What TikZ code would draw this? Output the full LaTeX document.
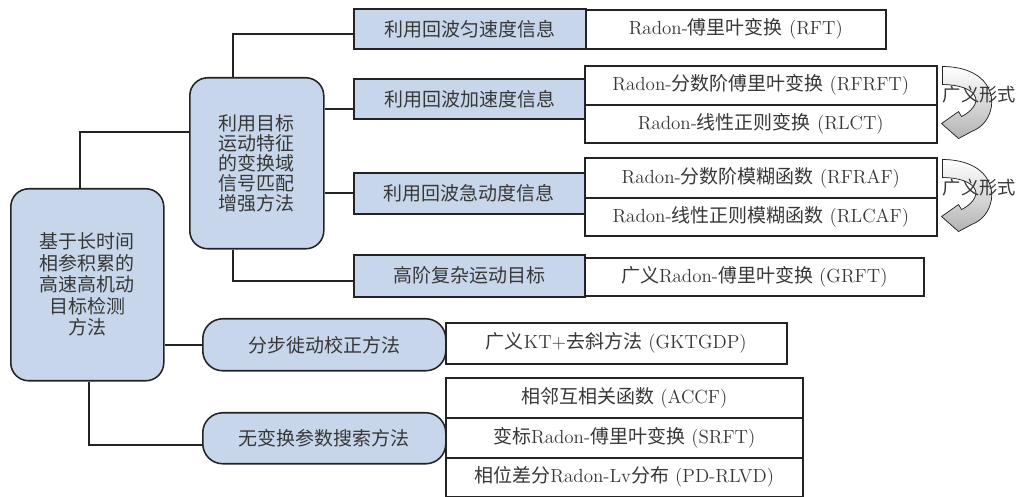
\documentclass[tikz,border=0pt]{standalone}
\usepackage{fontspec}
\newfontfamily\cjk{Noto Sans CJK SC}
\usepackage{xcolor}
\definecolor{boxblue}{RGB}{199,214,234}
\definecolor{darkline}{RGB}{35,35,35}
\definecolor{textgray}{RGB}{55,55,55}
\usepackage{tikz}
\usetikzlibrary{calc}
\newcommand{\px}{0.025cm}
\newcommand{\zh}[1]{{\cjk #1}}
\tikzset{
    common/.style={anchor=north west, draw=darkline, line width=1.1pt, inner sep=0pt, text=textgray,
        font=\fontsize{13.5}{15}\selectfont},
    leaf/.style={common, fill=white},
    method/.style={common, fill=boxblue, font=\cjk\fontsize{13.5}{15}\selectfont},
    group/.style={method, rounded corners=0.45cm, align=center},
    conn/.style={draw=darkline, line width=1.1pt},
    genarrow/.pic={
        \filldraw[draw=darkline, line width=0.5pt, top color=white, bottom color=black!30]
            (5,-39) .. controls (38,-39) and (56,-22) .. (54,0)
            .. controls (52,14) and (44,22) .. (34,26) -- (21,33) -- (4,18) -- (21,6) -- (24,11)
            .. controls (34,6) and (40,-2) .. (38,-8)
            .. controls (35,-17) and (20,-21) .. (5,-21) -- cycle;
        \node[text=textgray, font=\cjk\fontsize{13}{15}\selectfont] at (42,-11) {广义形式};
    }
}

\begin{document}
\begin{tikzpicture}[x=\px, y=-\px]
    \useasboundingbox (0,0) rectangle (1020,497);

    \node[group, minimum width=153*\px, minimum height=192*\px, font=\cjk\fontsize{13.5}{15.3}\selectfont]
        (detect) at (10,188) {基于长时间\\相参积累的\\高速高机动\\目标检测\\方法};
    \node[group, minimum width=134*\px, minimum height=171*\px, font=\cjk\fontsize{13.5}{14.3}\selectfont]
        (feature) at (189,77) {利用目标\\运动特征\\的变换域\\信号匹配\\增强方法};
    \node[group, rounded corners=0.5cm, minimum width=243*\px, minimum height=52*\px] (stepwise) at (202,318) {分步徙动校正方法};
    \node[group, rounded corners=0.5cm, minimum width=243*\px, minimum height=51*\px] (nosearch) at (202,412) {无变换参数搜索方法};

    \node[method, minimum width=232*\px, minimum height=40*\px] (uni) at (353,8) {利用回波匀速度信息};
    \node[method, minimum width=232*\px, minimum height=40*\px] (acc) at (353,78) {利用回波加速度信息};
    \node[method, minimum width=231*\px, minimum height=41*\px] (jerk) at (353,172) {利用回波急动度信息};
    \node[method, minimum width=231*\px, minimum height=42*\px] (high) at (353,254) {高阶复杂运动目标};

    \node[leaf, minimum width=300*\px, minimum height=39*\px] (rft) at (585,9) {Radon-\zh{傅里叶变换} (RFT)};
    \node[leaf, minimum width=352*\px, minimum height=39*\px] (rfrft) at (584,65) {Radon-\zh{分数阶傅里叶变换} (RFRFT)};
    \node[leaf, minimum width=352*\px, minimum height=38*\px] (rlct) at (584,104) {Radon-\zh{线性正则变换} (RLCT)};
    \node[leaf, minimum width=352*\px, minimum height=40*\px] (rfraf) at (584,157) {Radon-\zh{分数阶模糊函数} (RFRAF)};
    \node[leaf, minimum width=352*\px, minimum height=38*\px] (rlcaf) at (584,197) {Radon-\zh{线性正则模糊函数} (RLCAF)};
    \node[leaf, minimum width=339*\px, minimum height=38*\px] (grft) at (584,257) {\zh{广义}Radon-\zh{傅里叶变换} (GRFT)};

    \node[leaf, minimum width=341*\px, minimum height=41*\px] (gktgdp) at (445,322) {\zh{广义}KT+\zh{去斜方法} (GKTGDP)};
    \node[leaf, minimum width=357*\px, minimum height=40*\px] (accf) at (445,377) {\zh{相邻互相关函数} (ACCF)};
    \node[leaf, minimum width=357*\px, minimum height=40*\px] (srft) at (445,417) {\zh{变标}Radon-\zh{傅里叶变换} (SRFT)};
    \node[leaf, minimum width=357*\px, minimum height=39*\px] (pdrlvd) at (445,457) {\zh{相位差分}Radon-Lv\zh{分布} (PD-RLVD)};

    \pic at (rfrft.south east) {genarrow};
    \pic at (rfraf.south east) {genarrow};

    \coordinate (feature-in) at ([yshift=31.5*\px]feature.west);
    \coordinate (nosearch-in) at ([yshift=-6.5*\px]nosearch.west);
    \coordinate (uni-in) at ([yshift=-5*\px]uni.west);
    \coordinate (acc-in) at ([yshift=-10*\px]acc.west);
    \coordinate (high-in) at ([yshift=-5*\px]high.west);

    \draw[conn] ([xshift=-7.5*\px]detect.north) |- (feature-in);
    \draw[conn] (detect.east |- stepwise.west) -- (stepwise.west);
    \draw[conn] ([xshift=1.5*\px]detect.south) |- (nosearch-in);

    \draw[conn] ([xshift=-24*\px]feature.north) |- (uni-in);
    \draw[conn] (feature.east |- acc-in) -- (acc-in);
    \draw[conn] (feature.east |- jerk.west) -- (jerk.west);
    \draw[conn] ([xshift=-24*\px]feature.south) |- (high-in);
\end{tikzpicture}
\end{document}
